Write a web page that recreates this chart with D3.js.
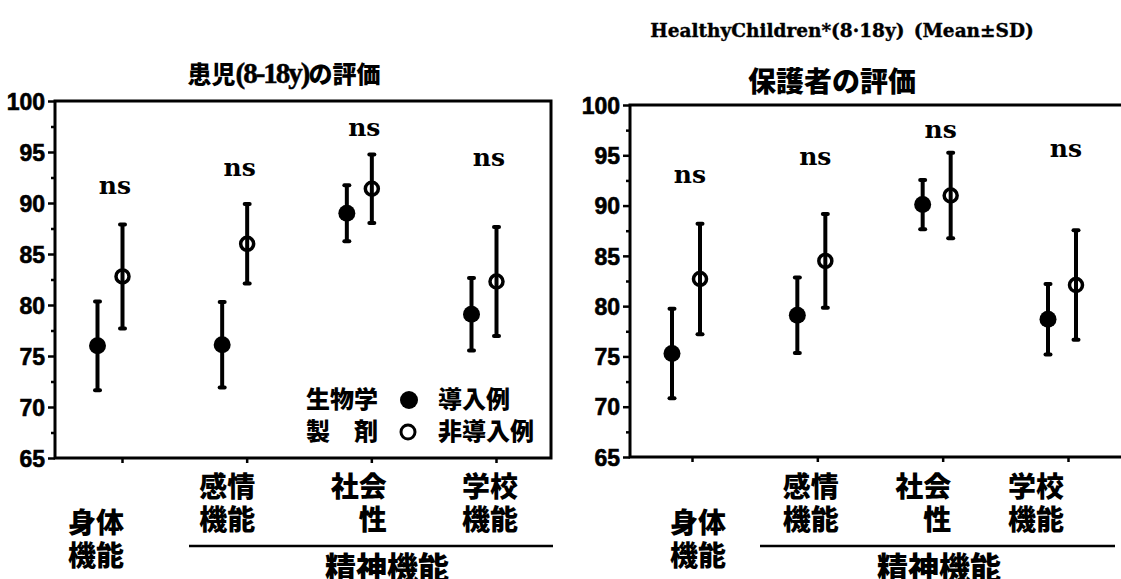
<!DOCTYPE html>
<html>
<head>
<meta charset="utf-8">
<script src="https://cdn.jsdelivr.net/npm/d3@7/dist/d3.min.js"></script>
<style>
  html, body { margin: 0; padding: 0; background: #fff; }
  svg { display: block; }
  .cjk { font-family: "Noto Sans CJK JP", "Noto Sans CJK SC", sans-serif; font-weight: 900; fill: #000; }
  .num { font-family: "Liberation Sans Narrow", "Liberation Sans", sans-serif; font-weight: 700; }
  .serif { font-family: "DejaVu Serif", "Liberation Serif", serif; font-weight: 700; fill: #000; }
</style>
</head>
<body>
<svg id="chart" width="1121" height="579"></svg>
<script>
// Domains (QOL score) and categories
const categories = ["身体機能", "感情機能", "社会性", "学校機能"];
const categoryLines = [["身体", "機能"], ["感情", "機能"], ["社会", "\u3000性"], ["学校", "機能"]];
const groups = ["bio", "non"];
const majorTicks = [65, 70, 75, 80, 85, 90, 95, 100];
const minorTicks = [67.5, 72.5, 77.5, 82.5, 87.5, 92.5, 97.5];

// Patient self-report (8-18y): mean and SD
const childBioMean = [76.0, 76.1, 89.0, 79.1];
const childBioSD   = [4.35, 4.2, 2.75, 3.55];
const childNonMean = [82.8, 86.0, 91.4, 82.3];
const childNonSD   = [5.1, 3.9, 3.35, 5.35];
const childNs      = ["ns", "ns", "ns", "ns"];
const childNsLevel = [91.7, 93.4, 97.4, 94.4];

// Parent proxy report: mean and SD
const parentBioMean = [75.3, 79.1, 90.1, 78.7];
const parentBioSD   = [4.45, 3.75, 2.45, 3.5];
const parentNonMean = [82.7, 84.5, 91.0, 82.1];
const parentNonSD   = [5.5, 4.65, 4.25, 5.45];
const parentNs      = ["ns", "ns", "ns", "ns"];
const parentNsLevel = [93.0, 94.8, 97.5, 95.6];

const headerText = "HealthyChildren*(8\u00B718y)\u2002(Mean\u00B1SD)";
const childTitle = ["患児", "(8-18y)", "の評価"];
const parentTitle = "保護者の評価";
const groupLabel = "精神機能";
const legendRows = [
  { left: "生物学", right: "導入例", group: "bio" },
  { left: "製\u3000剤", right: "非導入例", group: "non" }
];

const svg = d3.select("#chart");

function drawPanel(cfg) {
  const g = svg.append("g");
  const y = d3.scaleLinear().domain([65, 100]).range([cfg.bottom, cfg.top]);
  const x = d3.scalePoint().domain(categories).range(cfg.pairRange);
  const side = d3.scalePoint().domain(groups).range([-cfg.half, cfg.half]);
  const xLab = d3.scalePoint().domain(categories).range(cfg.labelRange);

  // frame
  const fr = cfg.right;
  g.append("path")
    .attr("d", cfg.closed
      ? `M${cfg.left},${cfg.top}H${fr}V${cfg.bottom}H${cfg.left}Z`
      : `M${fr},${cfg.top}H${cfg.left}V${cfg.bottom}H${fr}`)
    .attr("fill", "none").attr("stroke", "#000").attr("stroke-width", 3);

  // y axis ticks
  const yAxis = g.append("g").attr("transform", `translate(${cfg.left},0)`)
    .call(d3.axisLeft(y).tickValues(majorTicks).tickSize(7).tickSizeOuter(0).tickPadding(3)
      .tickFormat(d3.format("d")));
  yAxis.select(".domain").remove();
  yAxis.selectAll("line").attr("stroke-width", 2.5);
  yAxis.selectAll("text").attr("class", "num").attr("font-size", 23).attr("fill", "#000")
    .attr("stroke", "#000").attr("stroke-width", 0.6).attr("dy", "0.36em");
  const yMinor = g.append("g").attr("transform", `translate(${cfg.left},0)`)
    .call(d3.axisLeft(y).tickValues(minorTicks).tickSize(4).tickSizeOuter(0).tickFormat(""));
  yMinor.select(".domain").remove();
  yMinor.selectAll("line").attr("stroke-width", 2.5);

  // x axis ticks (under the bottom edge)
  const xTickScale = x.copy().range(cfg.pairRange.map(v => v + cfg.tickShift));
  const xAxis = g.append("g").attr("transform", `translate(0,${cfg.bottom})`)
    .call(d3.axisBottom(xTickScale).tickSize(5).tickSizeOuter(0).tickFormat(""));
  xAxis.select(".domain").remove();
  xAxis.selectAll("line").attr("stroke-width", 2.5);

  // marks
  const rows = [];
  categories.forEach((c, i) => {
    rows.push({ c, grp: "bio", mean: cfg.bioMean[i], sd: cfg.bioSD[i] });
    rows.push({ c, grp: "non", mean: cfg.nonMean[i], sd: cfg.nonSD[i] });
  });
  const mk = g.selectAll("g.mark").data(rows).join("g").attr("class", "mark")
    .attr("transform", d => `translate(${x(d.c) + side(d.grp)},0)`);
  mk.append("line")
    .attr("y1", d => y(d.mean + d.sd)).attr("y2", d => y(d.mean - d.sd))
    .attr("stroke", "#000").attr("stroke-width", 4);
  [1, -1].forEach(s => {
    mk.append("line")
      .attr("x1", -2.5).attr("x2", 2.5)
      .attr("y1", d => y(d.mean + s * d.sd)).attr("y2", d => y(d.mean + s * d.sd))
      .attr("stroke", "#000").attr("stroke-width", 4).attr("stroke-linecap", "round");
  });
  mk.filter(d => d.grp === "bio").append("circle")
    .attr("cy", d => y(d.mean)).attr("r", 8.5).attr("fill", "#000");
  mk.filter(d => d.grp === "non").append("circle")
    .attr("cy", d => y(d.mean)).attr("r", 6.5).attr("fill", "none")
    .attr("stroke", "#000").attr("stroke-width", 3.5);

  // significance labels
  g.selectAll("text.ns").data(categories).join("text").attr("class", "serif ns")
    .attr("x", d => x(d) + cfg.nsShift)
    .attr("y", (d, i) => y(cfg.nsLevel[i]))
    .attr("dy", "0.32em").attr("text-anchor", "middle").attr("font-size", 25)
    .text((d, i) => cfg.ns[i]);

  // category labels
  categories.forEach((c, i) => {
    const lines = categoryLines[i];
    const base = i === 0 ? cfg.firstRowY : cfg.rowY;
    lines.forEach((t, k) => {
      g.append("text").attr("class", "cjk")
        .attr("x", xLab(c)).attr("y", base + k * cfg.lineGap)
        .attr("dy", "0.35em").attr("text-anchor", "middle").attr("font-size", 28)
        .text(t);
    });
  });
  // bracket for the mental-function group
  g.append("line").attr("x1", cfg.bracket[0]).attr("x2", cfg.bracket[1])
    .attr("y1", cfg.bracketY).attr("y2", cfg.bracketY)
    .attr("stroke", "#000").attr("stroke-width", 2.5);
  g.append("text").attr("class", "cjk").attr("x", cfg.groupX).attr("y", cfg.groupY)
    .attr("dy", "0.35em").attr("text-anchor", "middle").attr("font-size", 31)
    .text(groupLabel);

  return { g, y };
}

const left = drawPanel({
  left: 55, right: 551, top: 101, bottom: 458, closed: true,
  pairRange: [110, 484], half: 12.5, tickShift: 12, nsShift: 5,
  labelRange: [96, 490],
  bioMean: childBioMean, bioSD: childBioSD, nonMean: childNonMean, nonSD: childNonSD,
  ns: childNs, nsLevel: childNsLevel,
  rowY: 487, firstRowY: 523, lineGap: 33,
  bracket: [189, 553], bracketY: 546, groupX: 387, groupY: 568
});

const right = drawPanel({
  left: 630, right: 1125, top: 105, bottom: 457, closed: false,
  pairRange: [686, 1062], half: 14, tickShift: 6, nsShift: 4,
  labelRange: [698, 1036],
  bioMean: parentBioMean, bioSD: parentBioSD, nonMean: parentNonMean, nonSD: parentNonSD,
  ns: parentNs, nsLevel: parentNsLevel,
  rowY: 487, firstRowY: 523, lineGap: 33,
  bracket: [760, 1115], bracketY: 546, groupX: 939, groupY: 568
});

// panel titles
const t1 = left.g.append("text").attr("class", "cjk").attr("x", 284).attr("y", 75)
  .attr("dy", "0.35em").attr("text-anchor", "middle").style("font-size", "24px");
t1.append("tspan").text(childTitle[0]);
t1.append("tspan")
  .style("font-family", "'Liberation Serif', serif").style("font-weight", "700")
  .style("font-size", "29px").style("letter-spacing", "-2px")
  .attr("stroke", "#000").attr("stroke-width", 0.5).text(childTitle[1]);
t1.append("tspan").text(childTitle[2]);

right.g.append("text").attr("class", "cjk").attr("x", 832).attr("y", 82)
  .attr("dy", "0.35em").attr("text-anchor", "middle").attr("font-size", 28)
  .text(parentTitle);

// legend inside the patient panel
const lg = left.g.append("g");
legendRows.forEach((r, i) => {
  const yy = 400 + i * 32;
  lg.append("text").attr("class", "cjk").attr("x", 306).attr("y", yy).attr("dy", "0.35em")
    .attr("font-size", 24).text(r.left);
  if (r.group === "bio") {
    lg.append("circle").attr("cx", 409).attr("cy", yy).attr("r", 9).attr("fill", "#000");
  } else {
    lg.append("circle").attr("cx", 408).attr("cy", yy).attr("r", 7).attr("fill", "none")
      .attr("stroke", "#000").attr("stroke-width", 3);
  }
  lg.append("text").attr("class", "cjk").attr("x", 438).attr("y", yy).attr("dy", "0.35em")
    .attr("font-size", 24).text(r.right);
});

// header line
svg.append("text").attr("class", "serif").attr("x", 842).attr("y", 31).attr("dy", "0.35em")
  .attr("text-anchor", "middle").attr("font-size", 18.5)
  .attr("stroke", "#000").attr("stroke-width", 0.4).text(headerText);
</script>
</body>
</html>
